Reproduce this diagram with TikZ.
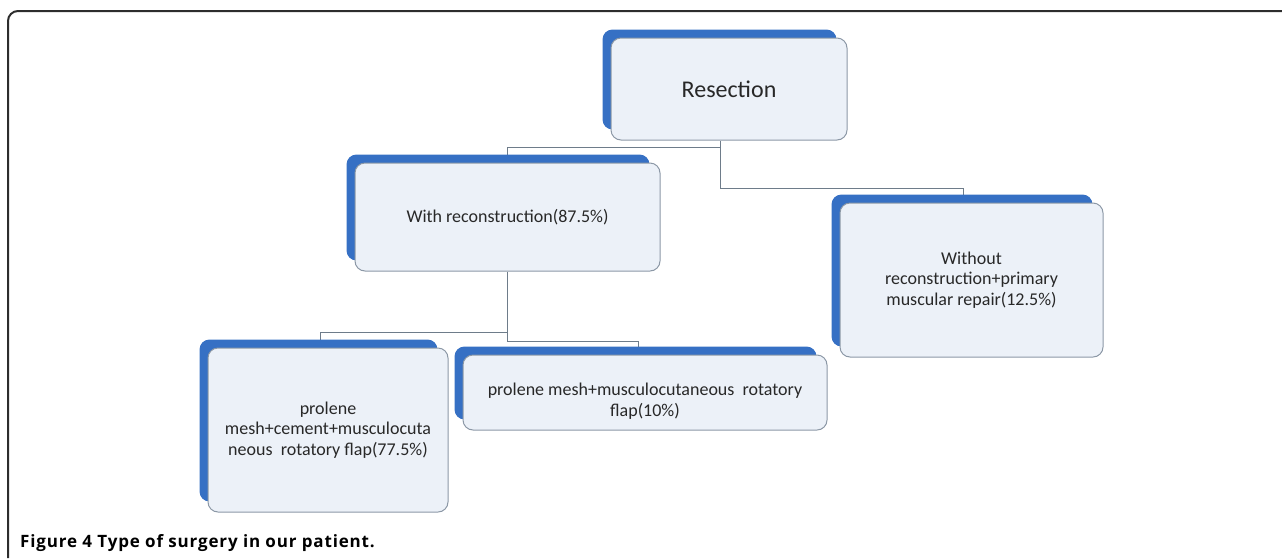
\documentclass[tikz,border=0pt]{standalone}
\usepackage{fontspec}
\setmainfont{Carlito}
\newfontfamily\capfont[LetterSpace=5]{Open Sans}
\usetikzlibrary{backgrounds,calc}
\definecolor{backblue}{RGB}{54,112,196}
\definecolor{frontfill}{RGB}{236,241,248}
\definecolor{frontdraw}{RGB}{140,152,166}
\definecolor{linkcol}{RGB}{110,124,138}
\definecolor{txtcol}{RGB}{40,40,40}
\definecolor{framecol}{RGB}{45,45,45}
\begin{document}
\begin{tikzpicture}[x=1pt,y=-1pt,
 front/.style={draw=frontdraw, line width=1pt, fill=frontfill, rounded corners=10pt, inner sep=0pt, align=center, text=txtcol, font=\fontsize{18}{20.5}\selectfont},
 back/.style={fill=backblue, rounded corners=10pt},
 link/.style={draw=linkcol, line width=1pt}]
\useasboundingbox (0,0) rectangle (1282,558);
\draw[line width=2pt, draw=framecol, rounded corners=10pt] (8,558) -- (8,11) -- (1282,11);

\node[front, minimum width=236pt, minimum height=102pt, font=\fontsize{24}{28}\selectfont] (res) at (729,89) {Resection};
\node[front, minimum width=305pt, minimum height=108pt] (rec) at (507.5,217) {With reconstruction(87.5\%)};
\node[front, minimum width=240pt, minimum height=164pt] (pm1) at (328,430) {prolene\\mesh+cement+musculocuta\\neous\ \ rotatory flap(77.5\%)};
\node[front, minimum width=364pt, minimum height=75pt] (pm2) at (645,392.5) {\raisebox{-9pt}[\height][\depth]{\begin{tabular}{@{}c@{}}prolene mesh+musculocutaneous\ \ rotatory\\[0.5pt]flap(10\%)\end{tabular}}};
\node[front, minimum width=263pt, minimum height=154pt] (wo) at (971.5,280) {Without\\reconstruction+primary\\muscular repair(12.5\%)};

\coordinate (a1) at (720,147);
\coordinate (a2) at (507,147);
\coordinate (a3) at (720,188);
\coordinate (a4) at (963,188);
\coordinate (b1) at (507,332);
\coordinate (b2) at (320,332);
\coordinate (b3) at (507,341);
\coordinate (b4) at (638,341);

\begin{scope}[on background layer]
\draw[link] (res.south -| a1) -- (a3) -- (a4) -- (a4 |- wo.north);
\draw[link] (a1) -- (a2) -- (a2 |- rec.north);
\draw[link] (rec.south -| b1) -- (b1) -- (b2) -- (b2 |- pm1.north);
\draw[link] (b1) -- (b3) -- (b4) -- (b4 |- pm2.north);
\foreach \n in {res,rec,pm1,pm2,wo}{
  \fill[back] ($(\n.north west)+(-8,-8)$) rectangle ($(\n.south east)+(-11,-11)$);
}
\end{scope}

\node[anchor=base west, inner sep=0pt, font=\capfont\bfseries\fontsize{17}{20}\selectfont, text=black] (cap) at (20,547) {Figure 4 Type of surgery in our patient.};
\end{tikzpicture}
\end{document}
